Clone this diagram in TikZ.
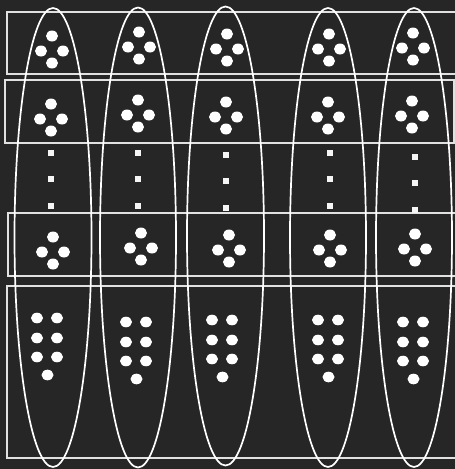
\documentclass[tikz,border=0pt]{standalone}
\definecolor{bg}{RGB}{38,38,38}
\definecolor{framec}{RGB}{225,225,225}
\tikzset{
  frame/.style={draw=framec, line width=1.5pt},
  oval/.style={draw=white, line width=1.7pt},
  dot/.style={fill=white},
  sq/.style={fill=white!92!gray}
}
\newcommand{\fourdots}[2]{%
  \fill[dot] (#1,#2-15) ellipse (6 and 5.5);
  \fill[dot] (#1-11,#2) ellipse (6 and 5.5);
  \fill[dot] (#1+11,#2) ellipse (6 and 5.5);
  \fill[dot] (#1,#2+12) ellipse (6 and 5.5);}
\newcommand{\sevendots}[2]{%
  \fill[dot] (#1,#2) ellipse (6 and 5.3);
  \fill[dot] (#1+20,#2) ellipse (6 and 5.3);
  \fill[dot] (#1,#2+20) ellipse (6 and 5.3);
  \fill[dot] (#1+20,#2+20) ellipse (6 and 5.3);
  \fill[dot] (#1,#2+39) ellipse (6 and 5.3);
  \fill[dot] (#1+20,#2+39) ellipse (6 and 5.3);
  \fill[dot] (#1+10.5,#2+57) ellipse (6 and 5.3);}
\newcommand{\threesq}[4]{%
  \fill[sq] (#1-3,#2-3) rectangle (#1+3,#2+3);
  \fill[sq] (#1-3,#3-3) rectangle (#1+3,#3+3);
  \fill[sq] (#1-3,#4-3) rectangle (#1+3,#4+3);}
\begin{document}
\begin{tikzpicture}[x=1pt,y=-1pt]
\fill[bg] (0,0) rectangle (455,469);
\useasboundingbox (0,0) rectangle (455,469);
% rows
\draw[frame] (7,12) rectangle (460,74);
\draw[frame] (5,80) rectangle (454,143);
\draw[frame] (8,213) rectangle (460,276);
\draw[frame] (7,286) rectangle (460,458);
% columns
\draw[oval] (53,237.5) ellipse (38.5 and 229.5);
\draw[oval] (138,237.5) ellipse (38 and 230);
\draw[oval] (225.5,236) ellipse (38.5 and 229.5);
\draw[oval] (328,237.5) ellipse (38 and 229.5);
\draw[oval] (414,237.5) ellipse (38 and 229.5);
% row 1
\fourdots{52}{51}\fourdots{139}{47}\fourdots{227}{49}\fourdots{329}{49}\fourdots{413}{48}
% row 2
\fourdots{51}{119}\fourdots{138}{115}\fourdots{226}{117}\fourdots{328}{117}\fourdots{412}{116}
% ellipsis squares
\threesq{51}{153}{179}{206}
\threesq{138}{153}{179}{206}
\threesq{226}{155}{181}{208}
\threesq{330}{153}{179}{206}
\threesq{415}{157}{183}{210}
% row 3
\fourdots{53}{252}\fourdots{141}{248}\fourdots{229}{250}\fourdots{330}{250}\fourdots{415}{249}
% row 4
\sevendots{37}{318}\sevendots{126}{322}\sevendots{212}{320}\sevendots{318}{320}\sevendots{403}{322}
\end{tikzpicture}
\end{document}
